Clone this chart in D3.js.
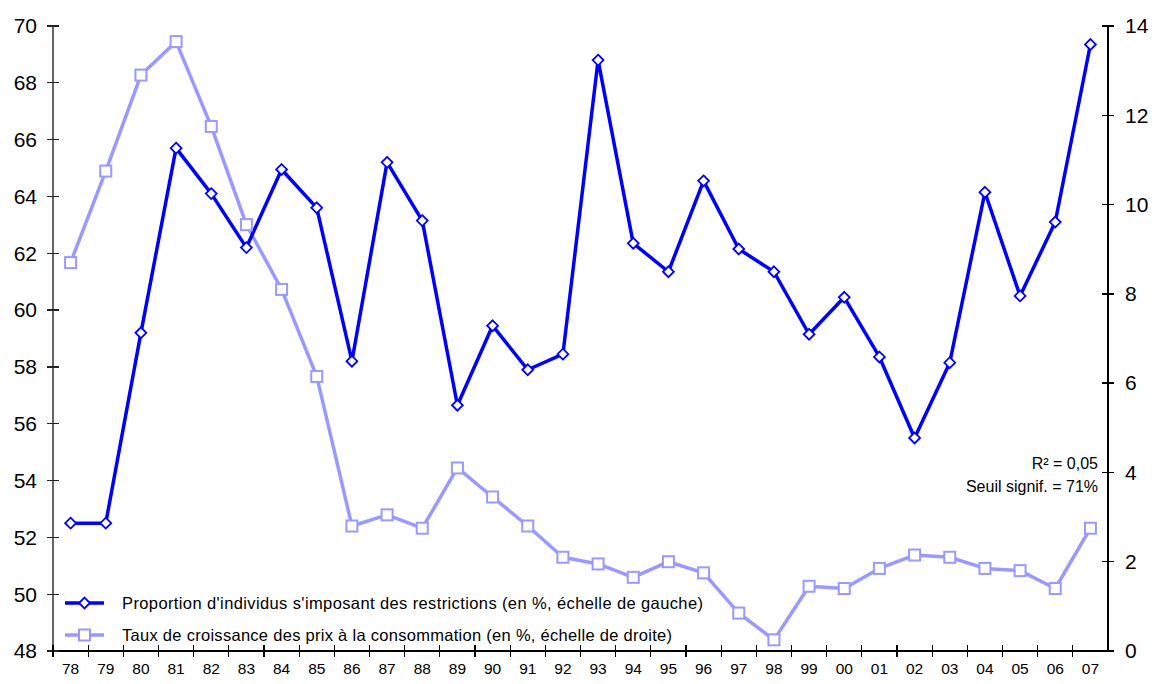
<!DOCTYPE html>
<html>
<head>
<meta charset="utf-8">
<script src="https://cdn.jsdelivr.net/npm/d3@7"></script>
<style>
  body { margin: 0; background: #fff; }
  text { font-family: "Liberation Sans", Arial, sans-serif; fill: #000; }
</style>
</head>
<body>
<svg id="chart" width="1152" height="684"></svg>
<script>
const years = ['78','79','80','81','82','83','84','85','86','87','88','89','90','91','92',
               '93','94','95','96','97','98','99','00','01','02','03','04','05','06','07'];
// proportion d'individus s'imposant des restrictions (left scale)
const restrictions = [52.5, 52.5, 59.2, 65.7, 64.1, 62.2, 64.95, 63.6, 58.2, 65.2,
                      63.15, 56.65, 59.45, 57.9, 58.45, 68.8, 62.35, 61.35, 64.55, 62.15,
                      61.35, 59.15, 60.45, 58.35, 55.5, 58.15, 64.15, 60.5, 63.1, 69.35];
// taux de croissance des prix à la consommation (right scale)
const inflation = [8.7, 10.75, 12.9, 13.65, 11.75, 9.55, 8.1, 6.15, 2.8, 3.05,
                   2.75, 4.1, 3.45, 2.8, 2.1, 1.95, 1.65, 2.0, 1.75, 0.85,
                   0.25, 1.45, 1.4, 1.85, 2.15, 2.1, 1.85, 1.8, 1.4, 2.75];
const leftTicks = d3.range(48, 71, 2);
const rightTicks = d3.range(0, 15, 2);
const legendLabels = ["Proportion d'individus s'imposant des restrictions (en %, échelle de gauche)",
                      "Taux de croissance des prix à la consommation (en %, échelle de droite)"];
const note = ['R² = 0,05', 'Seuil signif. = 71%'];

const svg = d3.select('#chart');
const plot = {left: 53, right: 1108, top: 26, bottom: 651};

const x = d3.scaleBand().domain(years).range([plot.left, plot.right]);
const yL = d3.scaleLinear().domain([48, 70]).range([plot.bottom, plot.top]);
const yR = d3.scaleLinear().domain([0, 14]).range([plot.bottom, plot.top]);
const cx = d => x(d) + x.bandwidth() / 2;

// axes
const axes = svg.append('g').attr('stroke-width', 1.3).attr('shape-rendering', 'crispEdges');
axes.append('line').attr('x1', plot.left).attr('x2', plot.left)
  .attr('y1', plot.top).attr('y2', plot.bottom).attr('stroke', '#666');
axes.append('line').attr('x1', plot.right).attr('x2', plot.right)
  .attr('y1', plot.top).attr('y2', plot.bottom).attr('stroke', '#000');
axes.append('line').attr('x1', plot.left).attr('x2', plot.right)
  .attr('y1', plot.bottom).attr('y2', plot.bottom).attr('stroke', '#000');

axes.selectAll('.tl').data(leftTicks).enter().append('line')
  .attr('x1', plot.left - 6).attr('x2', plot.left + 6)
  .attr('y1', d => yL(d)).attr('y2', d => yL(d)).attr('stroke', '#222');
axes.selectAll('.tr').data(rightTicks).enter().append('line')
  .attr('x1', plot.right - 6).attr('x2', plot.right + 6)
  .attr('y1', d => yR(d)).attr('y2', d => yR(d)).attr('stroke', '#000');
axes.selectAll('.tx').data(years).enter().append('line')
  .attr('x1', d => x(d)).attr('x2', d => x(d))
  .attr('y1', plot.bottom - 6).attr('y2', plot.bottom + 6).attr('stroke', '#000');

svg.selectAll('.ll').data(leftTicks).enter().append('text')
  .attr('x', 37).attr('y', d => yL(d)).attr('dy', '0.35em')
  .attr('text-anchor', 'end').attr('font-size', 21).text(d => d);
svg.selectAll('.rl').data(rightTicks).enter().append('text')
  .attr('x', 1125).attr('y', d => yR(d)).attr('dy', '0.35em')
  .attr('font-size', 21).text(d => d);
svg.selectAll('.xl').data(years).enter().append('text')
  .attr('x', d => cx(d)).attr('y', 669).attr('dy', '0.35em')
  .attr('text-anchor', 'middle').attr('font-size', 15.5).text(d => d);

// series
const lineL = d3.line().x((d, i) => cx(years[i])).y(d => yL(d));
const lineR = d3.line().x((d, i) => cx(years[i])).y(d => yR(d));

svg.append('path').datum(inflation).attr('d', lineR)
  .attr('fill', 'none').attr('stroke', '#9999ff').attr('stroke-width', 3.5).attr('stroke-linejoin', 'round');
svg.append('path').datum(restrictions).attr('d', lineL)
  .attr('fill', 'none').attr('stroke', '#0000ff').attr('stroke-width', 3.5).attr('stroke-linejoin', 'round');

svg.selectAll('.sq').data(inflation).enter().append('rect')
  .attr('x', (d, i) => cx(years[i]) - 5.5).attr('y', d => yR(d) - 5.5)
  .attr('width', 11).attr('height', 11)
  .attr('fill', '#fff').attr('stroke', '#9999ff').attr('stroke-width', 2);

const diamond = d3.symbol().type(d3.symbolDiamond2).size(75);
svg.selectAll('.dm').data(restrictions).enter().append('path')
  .attr('d', diamond)
  .attr('transform', (d, i) => 'translate(' + cx(years[i]) + ',' + yL(d) + ')')
  .attr('fill', '#fff').attr('stroke', '#0000ff').attr('stroke-width', 1.8);

// legend
const lg = svg.append('g');
const colors = ['#0000ff', '#9999ff'];
const legendWidths = [581, 550];
legendLabels.forEach((t, i) => {
  const y = 603 + i * 32;
  lg.append('line').attr('x1', 65).attr('x2', 104).attr('y1', y).attr('y2', y)
    .attr('stroke', colors[i]).attr('stroke-width', 3.5);
  if (i === 0) {
    lg.append('path').attr('d', diamond).attr('transform', 'translate(84.5,' + y + ')')
      .attr('fill', '#fff').attr('stroke', colors[i]).attr('stroke-width', 1.8);
  } else {
    lg.append('rect').attr('x', 79).attr('y', y - 5.5).attr('width', 11).attr('height', 11)
      .attr('fill', '#fff').attr('stroke', colors[i]).attr('stroke-width', 2);
  }
  lg.append('text').attr('x', 122).attr('y', y).attr('dy', '0.35em')
    .attr('font-size', 16.5)
    .attr('textLength', legendWidths[i]).attr('lengthAdjust', 'spacing')
    .text(t);
});

// note
svg.selectAll('.note').data(note).enter().append('text')
  .attr('x', 1098).attr('y', (d, i) => 463 + i * 23).attr('dy', '0.35em')
  .attr('text-anchor', 'end').attr('font-size', 16).text(d => d);
</script>
</body>
</html>
